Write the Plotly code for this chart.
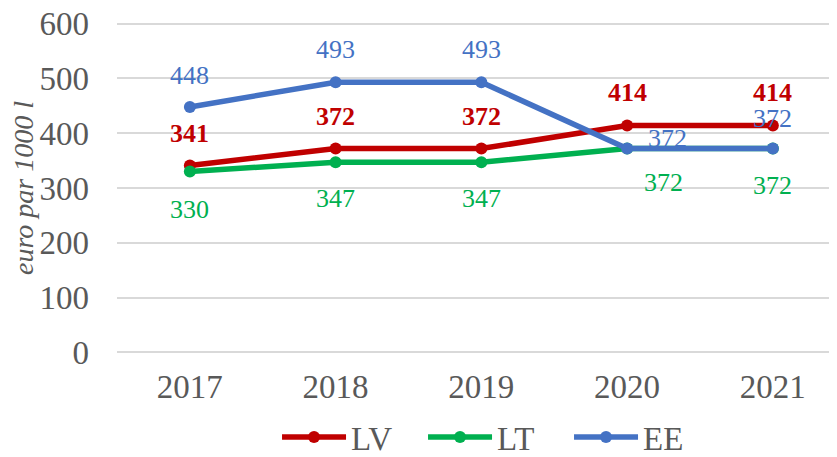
import plotly.graph_objects as go

years = ["2017", "2018", "2019", "2020", "2021"]
lv = [341, 372, 372, 414, 414]
lt = [330, 347, 347, 372, 372]
ee = [448, 493, 493, 372, 372]
y_title = "euro par 1000 l"

FONT = "'Liberation Serif', 'Times New Roman', serif"
C_LV, C_LT, C_EE = "#C00000", "#00B050", "#4472C4"

fig = go.Figure()
for name, vals, col in [("LV", lv, C_LV), ("LT", lt, C_LT), ("EE", ee, C_EE)]:
    fig.add_trace(go.Scatter(
        x=years, y=vals, name=name, mode="lines+markers",
        line=dict(color=col, width=5.5), marker=dict(color=col, size=12),
    ))

# data label offsets (xshift, yshift) per point
off_lv = [(0, 32), (0, 32), (0, 32), (0, 33), (0, 33)]
off_lt = [(0, -38), (0, -36), (0, -36), (36, -34), (0, -37)]
off_ee = [(0, 31), (0, 33), (0, 33), (40, 10), (0, 30)]
anns = []
for vals, col, offs, bold in [(lv, C_LV, off_lv, True), (lt, C_LT, off_lt, False), (ee, C_EE, off_ee, False)]:
    for i, (yv, (dx, dy)) in enumerate(zip(vals, offs)):
        anns.append(dict(
            x=i, y=yv, xref="x", yref="y", text=f"<b>{yv}</b>" if bold else str(yv),
            showarrow=False, xshift=dx, yshift=dy,
            font=dict(family=FONT, size=26, color=col),
        ))

# the page body has an 8px margin, so the figure is sized 8px smaller
fig.update_layout(
    width=829, height=449,
    margin=dict(l=109, r=0, t=14, b=103, autoexpand=False),
    paper_bgcolor="white", plot_bgcolor="white",
    font=dict(family=FONT, color="#595959", size=33),
    showlegend=True,
    legend=dict(orientation="h", xref="container", x=0.5887, xanchor="center",
                yref="container", y=20 / 449, yanchor="middle",
                font=dict(family=FONT, size=33, color="#595959"), itemwidth=64,
                entrywidth=67, bgcolor="rgba(0,0,0,0)"),
    annotations=anns,
    xaxis=dict(type="category", range=[-0.5, 4.44], showgrid=False, zeroline=False,
               showline=False, ticks="", ticklabelstandoff=10, automargin=False,
               ticklabeloverflow="allow",
               tickfont=dict(family=FONT, size=33, color="#595959")),
    yaxis=dict(range=[-3, 603], tickvals=[0, 100, 200, 300, 400, 500, 600],
               showgrid=True, gridcolor="#D9D9D9", gridwidth=1.5,
               zeroline=False, showline=False, ticks="", ticklabelstandoff=27, automargin=False,
               ticklabeloverflow="allow",
               tickfont=dict(family=FONT, size=33, color="#595959"),
               title=dict(text=f"<i>{y_title}</i>", standoff=5,
                          font=dict(family=FONT, size=28, color="#595959"))),
)

fig.write_html("out.html")
